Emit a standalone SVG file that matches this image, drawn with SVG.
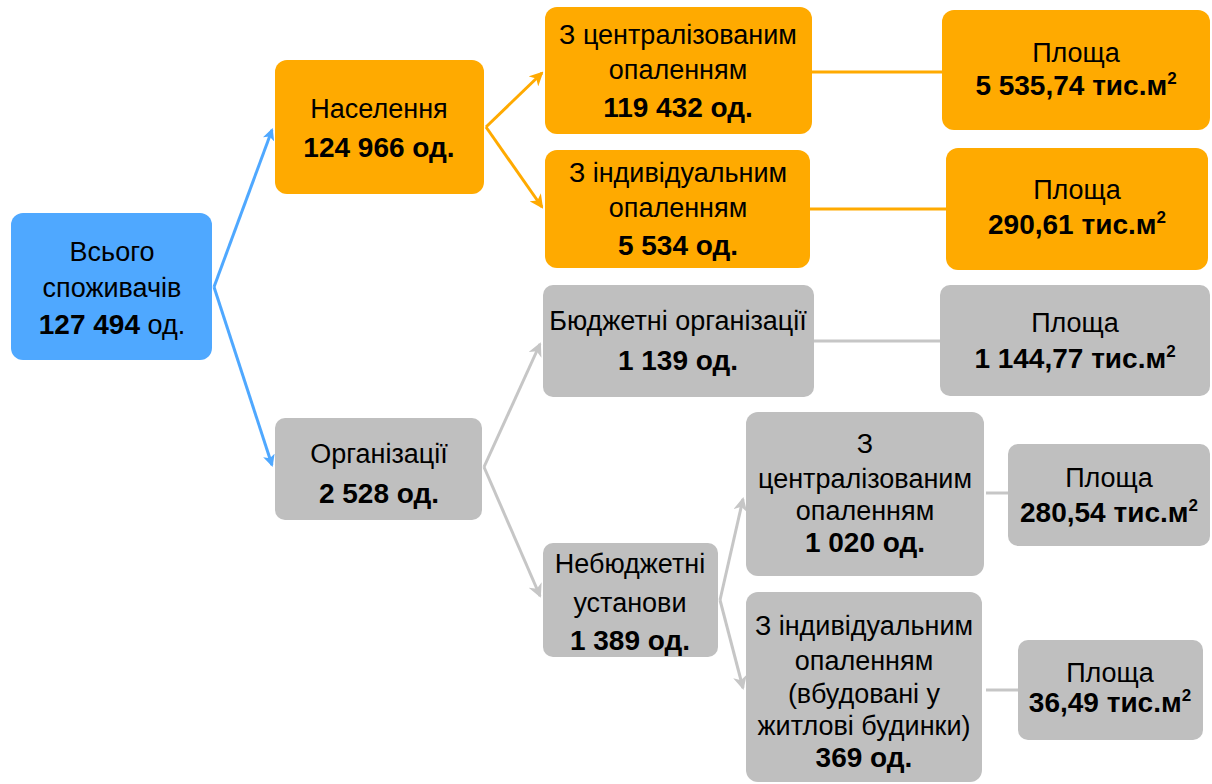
<svg xmlns="http://www.w3.org/2000/svg" width="1212" height="784" viewBox="0 0 1212 784">
<defs>
<style>
text{font-family:"Liberation Sans",Arial,sans-serif;font-size:27px;fill:#000;text-anchor:middle}
.b{font-weight:bold;font-size:28px}
.blue{fill:#4FA8FF}
.or{fill:#FFAA00}
.gr{fill:#BFBFBF}
.cb{stroke:#4FA8FF;stroke-width:3;fill:none}
.co{stroke:#FFAA00;stroke-width:3;fill:none}
.cg{stroke:#C6C6C6;stroke-width:3;fill:none}
.sup{font-size:17px}
</style>
<marker id="mb" markerWidth="12" markerHeight="12" refX="10" refY="6" orient="auto" markerUnits="userSpaceOnUse" viewBox="0 0 12 12"><path d="M0,0 L12,6 L0,12 L3,6 Z" fill="#4FA8FF"/></marker>
<marker id="mo" markerWidth="14" markerHeight="14" refX="12" refY="7" orient="auto" markerUnits="userSpaceOnUse" viewBox="0 0 14 14"><path d="M0,0 L14,7 L0,14 L4,7 Z" fill="#FFAA00"/></marker>
<marker id="mg" markerWidth="14" markerHeight="14" refX="12" refY="7" orient="auto" markerUnits="userSpaceOnUse" viewBox="0 0 14 14"><path d="M0,0 L14,7 L0,14 L4,7 Z" fill="#C6C6C6"/></marker>
</defs>
<g id="connectors">
<path class="cb" d="M214,287 L272,130" marker-end="url(#mb)"/>
<path class="cb" d="M214,287 L272,465" marker-end="url(#mb)"/>
<path class="co" d="M486,127 L542,73" marker-end="url(#mo)"/>
<path class="co" d="M486,127 L542,207" marker-end="url(#mo)"/>
<path class="co" d="M812,72 L942,72"/>
<path class="co" d="M810,209 L946,209"/>
<path class="cg" d="M484,467 L540,344" marker-end="url(#mg)"/>
<path class="cg" d="M484,467 L540,596" marker-end="url(#mg)"/>
<path class="cg" d="M814,341 L940,341"/>
<path class="cg" d="M720,600 L743,499" marker-end="url(#mg)"/>
<path class="cg" d="M720,600 L743,688" marker-end="url(#mg)"/>
<path class="cg" d="M986,493 L1008,493"/>
<path class="cg" d="M986,690 L1018,690"/>
</g>
<g id="n-total">
<rect class="blue" x="11" y="213" width="201" height="147" rx="12"/>
<text x="112" y="261">Всього</text>
<text x="112" y="297">споживачів</text>
<text x="112" y="334"><tspan class="b">127 494</tspan> од.</text>
</g>
<g id="n-population">
<rect class="or" x="275" y="60" width="209" height="134" rx="12"/>
<text x="379" y="118">Населення</text>
<text class="b" x="379" y="157">124 966 од.</text>
</g>
<g id="n-org">
<rect class="gr" x="275" y="418" width="207" height="102" rx="10"/>
<text x="379" y="463">Організації</text>
<text class="b" x="379" y="503">2 528 од.</text>
</g>
<g id="n-pop-central">
<rect class="or" x="545" y="7" width="267" height="127" rx="12"/>
<text x="678" y="44">З централізованим</text>
<text x="678" y="79">опаленням</text>
<text class="b" x="678" y="117">119 432 од.</text>
</g>
<g id="n-pop-indiv">
<rect class="or" x="545" y="150" width="265" height="118" rx="12"/>
<text x="678" y="182">З індивідуальним</text>
<text x="678" y="217">опаленням</text>
<text class="b" x="678" y="255">5 534 од.</text>
</g>
<g id="n-area1">
<rect class="or" x="942" y="10" width="268" height="120" rx="12"/>
<text x="1076" y="62">Площа</text>
<text class="b" x="1076" y="95">5 535,74 тис.м<tspan class="sup" dy="-11">2</tspan></text>
</g>
<g id="n-area2">
<rect class="or" x="946" y="148" width="262" height="122" rx="12"/>
<text x="1077" y="199">Площа</text>
<text class="b" x="1077" y="234">290,61 тис.м<tspan class="sup" dy="-11">2</tspan></text>
</g>
<g id="n-budget">
<rect class="gr" x="543" y="285" width="271" height="112" rx="10"/>
<text x="678" y="330">Бюджетні організації</text>
<text class="b" x="678" y="370">1 139 од.</text>
</g>
<g id="n-area3">
<rect class="gr" x="940" y="285" width="270" height="111" rx="10"/>
<text x="1075" y="332">Площа</text>
<text class="b" x="1075" y="368">1 144,77 тис.м<tspan class="sup" dy="-11">2</tspan></text>
</g>
<g id="n-nonbudget">
<rect class="gr" x="543" y="543" width="175" height="114" rx="10"/>
<text x="630" y="573">Небюджетні</text>
<text x="630" y="612">установи</text>
<text class="b" x="630" y="650">1 389 од.</text>
</g>
<g id="n-nb-central">
<rect class="gr" x="746" y="412" width="238" height="164" rx="12"/>
<text x="865" y="453">З</text>
<text x="865" y="488">централізованим</text>
<text x="865" y="520">опаленням</text>
<text class="b" x="865" y="552">1 020 од.</text>
</g>
<g id="n-nb-indiv">
<rect class="gr" x="746" y="592" width="236" height="190" rx="12"/>
<text x="864" y="635">З індивідуальним</text>
<text x="864" y="670">опаленням</text>
<text x="864" y="703">(вбудовані у</text>
<text x="864" y="735">житлові будинки)</text>
<text class="b" x="864" y="767">369 од.</text>
</g>
<g id="n-area4">
<rect class="gr" x="1008" y="444" width="202" height="102" rx="10"/>
<text x="1109" y="487">Площа</text>
<text class="b" x="1109" y="522">280,54 тис.м<tspan class="sup" dy="-11">2</tspan></text>
</g>
<g id="n-area5">
<rect class="gr" x="1018" y="640" width="185" height="100" rx="10"/>
<text x="1110" y="682">Площа</text>
<text class="b" x="1110" y="712">36,49 тис.м<tspan class="sup" dy="-11">2</tspan></text>
</g>
</svg>
